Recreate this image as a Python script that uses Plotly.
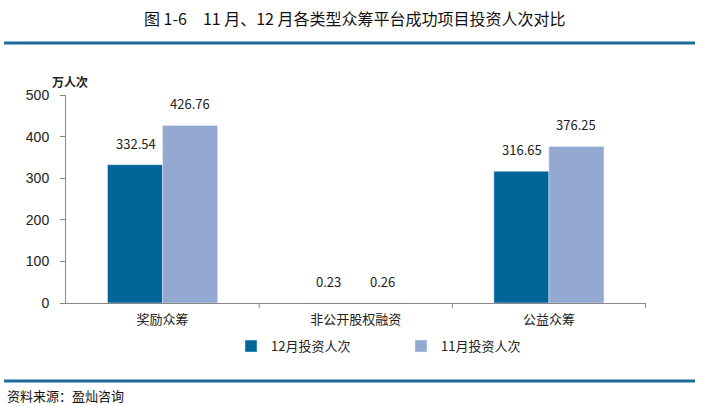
import plotly.graph_objects as go

categories = ["奖励众筹", "非公开股权融资", "公益众筹"]
dec_values = [332.54, 0.23, 316.65]
nov_values = [426.76, 0.26, 376.25]
series_names = ["12月投资人次", "11月投资人次"]
y_ticks = [0, 100, 200, 300, 400, 500]

DARK = "#00669A"
LIGHT = "#94A9D2"
LINE = "#1A6A9A"
FONT = "Noto Sans CJK SC"

fig = go.Figure()
fig.add_trace(go.Bar(x=categories, y=dec_values, name=series_names[0],
                     marker_color=DARK, offsetgroup="a"))
fig.add_trace(go.Bar(x=categories, y=nov_values, name=series_names[1],
                     marker_color=LIGHT, offsetgroup="b"))

annots = []
for i, c in enumerate(categories):
    for vals, dx in ((dec_values, -0.14), (nov_values, 0.14)):
        annots.append(dict(x=i + dx, y=vals[i], xref="x", yref="y",
                           text=f"{vals[i]:.2f}", showarrow=False,
                           yanchor="bottom", yshift=10,
                           font=dict(size=13, color="#222")))

fig.update_layout(
    width=709, height=406,
    margin=dict(l=66, r=63, t=95, b=103),
    paper_bgcolor="white", plot_bgcolor="white",
    barmode="group", bargap=0.43, bargroupgap=0,
    font=dict(family=FONT, size=13, color="#222"),
    showlegend=True,
    legend=dict(orientation="h", x=(401-66)/580, xanchor="center", y=-0.135, yanchor="top",
                font=dict(size=13), traceorder="normal", itemwidth=30,
                entrywidth=125, tracegroupgap=0),
    xaxis=dict(showline=True, linecolor="#888", ticks="", showgrid=False,
               tickfont=dict(size=13), ticklabelstandoff=4),
    yaxis=dict(range=[0, 500], tickvals=y_ticks, showline=True, linecolor="#888",
               ticks="outside", ticklen=5, tickcolor="#888", showgrid=False,
               tickfont=dict(size=14, family="Liberation Sans"), zeroline=False,
               ticklabelstandoff=8),
    shapes=[
        dict(type="line", xref="paper", yref="paper", x0=-0.1069, x1=1.0845,
             y0=(303-43)/208, y1=(303-43)/208, line=dict(color=LINE, width=3)),
        dict(type="line", xref="paper", yref="paper", x0=-0.1069, x1=1.0845,
             y0=(303-381)/208, y1=(303-381)/208, line=dict(color=LINE, width=3)),
    ],
    annotations=annots + [
        dict(text="图 1-6　11 月、12 月各类型众筹平台成功项目投资人次对比", xref="paper", yref="paper",
             x=(355-66)/580, y=(303-18)/208, xanchor="center", yanchor="middle",
             showarrow=False, font=dict(size=16, family=FONT, color="#111")),
        dict(text="<b>万人次</b>", xref="paper", yref="paper",
             x=(70-66)/580, y=(303-81)/208, xanchor="center", yanchor="middle",
             showarrow=False, font=dict(size=12, color="#222")),
        dict(text="资料来源：盈灿咨询", xref="paper", yref="paper",
             x=(5-66)/580, y=(303-395)/208, xanchor="left", yanchor="middle",
             showarrow=False, font=dict(size=13, color="#111")),
    ],
)

for xv in [0.5, 1.5, 2.5]:
    fig.add_shape(type="line", xref="x", yref="paper", x0=xv, x1=xv, y0=0, y1=-0.025,
                  line=dict(color="#888", width=1))

fig.write_html("out.html")
